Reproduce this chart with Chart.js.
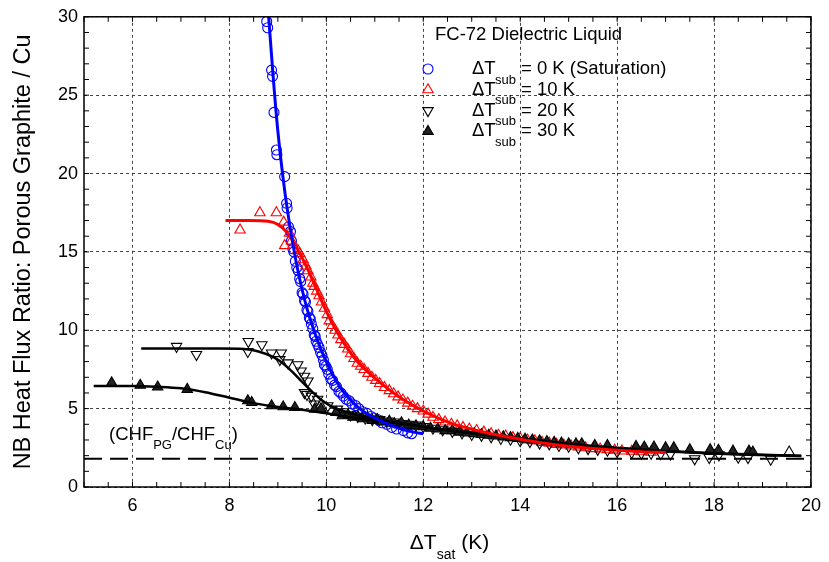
<!DOCTYPE html>
<html><head><meta charset="utf-8">
<script src="https://cdn.jsdelivr.net/npm/chart.js@4"></script>
<style>html,body{margin:0;padding:0;background:#fff}canvas{display:block}</style>
</head><body>
<canvas id="c" width="829" height="562"></canvas>
<script>
// ---- tick labels / constants ----
const xTicks = [6, 8, 10, 12, 14, 16, 18, 20];
const yTicks = [0, 5, 10, 15, 20, 25, 30];
const chfRatio = 1.8;

// ---- measured points [ΔTsat, ratio] ----
const sub0Pts = [[8.77,29.7],[8.79,29.3],[8.87,26.6],[8.89,26.2],[8.92,23.9],[8.97,21.5],[8.98,21.2],[9.14,19.8],[9.18,18.1],[9.19,17.8],[9.22,16.6],[9.26,16.3],[9.28,15.7],[9.31,15.2],[9.33,15.0],[9.36,14.4],[9.39,14.0],[9.42,13.8],[9.45,13.3],[9.47,13.1],[9.50,12.4],[9.52,12.3],[9.55,11.9],[9.57,11.8],[9.60,11.3],[9.62,11.2],[9.65,10.8],[9.67,10.7],[9.69,10.4],[9.72,10.1],[9.75,9.7],[9.77,9.6],[9.79,9.3],[9.82,9.1],[9.85,8.9],[9.88,8.6],[9.91,8.4],[9.94,8.1],[9.96,7.8],[9.99,7.7],[10.02,7.5],[10.05,7.2],[10.09,6.9],[10.13,6.8],[10.17,6.5],[10.21,6.4],[10.26,6.1],[10.30,6.0],[10.35,5.8],[10.41,5.6],[10.47,5.5],[10.53,5.3],[10.60,5.2],[10.67,5.0],[10.75,4.8],[10.84,4.7],[10.92,4.5],[10.98,4.4],[11.06,4.3],[11.15,4.1],[11.25,4.0],[11.35,3.8],[11.45,3.7],[11.59,3.6],[11.68,3.45],[11.76,3.4]];
const sub10Pts = [[8.22,16.4],[8.63,17.5],[8.97,17.5],[9.12,16.9],[9.24,16.2],[9.14,15.4],[9.28,15.7],[9.41,15.1],[9.45,14.9],[9.52,14.5],[9.58,14.1],[9.62,13.8],[9.68,13.4],[9.72,13.0],[9.75,12.8],[9.80,12.5],[9.85,12.2],[9.90,11.8],[9.96,11.4],[10.02,11.0],[10.06,10.6],[10.12,10.3],[10.18,10.0],[10.24,9.7],[10.30,9.4],[10.37,9.1],[10.44,8.8],[10.50,8.5],[10.57,8.2],[10.64,7.9],[10.71,7.7],[10.78,7.5],[10.86,7.25],[10.94,7.0],[11.02,6.8],[11.10,6.6],[11.20,6.35],[11.30,6.15],[11.39,5.95],[11.48,5.75],[11.58,5.55],[11.68,5.35],[11.78,5.15],[11.88,5.0],[12.00,4.85],[12.10,4.65],[12.20,4.45],[12.32,4.3],[12.45,4.15],[12.58,4.0],[12.70,3.9],[12.82,3.8],[12.95,3.7],[13.10,3.6],[13.25,3.5],[13.40,3.4],[13.55,3.3],[13.70,3.25],[13.85,3.15],[14.00,3.1],[14.15,3.0],[14.30,2.95],[14.45,2.85],[14.60,2.8],[14.75,2.72],[14.90,2.68],[15.05,2.62],[15.20,2.55],[15.35,2.5],[15.50,2.45],[15.65,2.42],[15.80,2.38],[15.95,2.35],[16.10,2.3],[16.30,2.28],[16.50,2.25],[16.70,2.22]];
const sub20Pts = [[6.91,8.97],[7.32,8.45],[8.39,9.28],[8.38,8.65],[8.67,9.08],[8.87,8.55],[9.07,8.55],[9.04,8.13],[9.21,7.92],[9.41,7.8],[9.48,7.4],[9.55,7.07],[9.62,6.76],[9.55,6.02],[9.60,5.9],[9.69,5.8],[9.82,5.6],[9.75,5.3],[10.03,5.18],[10.23,4.97],[10.35,4.8],[10.50,4.6],[10.65,4.5],[10.80,4.4],[10.95,4.3],[11.10,4.3],[11.25,4.2],[11.40,4.15],[11.55,4.05],[11.70,4.0],[11.85,3.95],[12.00,3.85],[12.20,3.75],[12.40,3.65],[12.60,3.55],[12.80,3.45],[13.00,3.35],[13.20,3.3],[13.40,3.2],[13.60,3.1],[13.80,3.05],[14.00,2.95],[14.20,2.9],[14.40,2.8],[14.60,2.75],[14.80,2.65],[15.00,2.6],[15.20,2.5],[15.40,2.45],[15.60,2.4],[15.80,2.35],[16.00,2.25],[16.30,2.2],[16.50,2.15],[16.70,2.15],[16.90,2.12],[17.10,2.1],[17.60,1.8],[17.90,1.88],[18.10,2.05],[18.50,1.9],[18.70,1.88],[19.17,1.77]];
const sub20UpPts = [[19.55,2.23]];
const sub30Pts = [[5.57,6.65],[6.16,6.49],[6.52,6.38],[7.13,6.23],[8.38,5.5],[8.46,5.39],[8.87,5.18],[9.11,5.12],[9.35,5.07],[9.76,4.97],[9.89,4.99],[10.20,4.76],[10.33,4.55],[10.45,4.6],[10.55,4.45],[10.65,4.5],[10.75,4.35],[10.85,4.4],[10.95,4.25],[11.05,4.3],[11.15,4.15],[11.30,4.2],[11.40,4.05],[11.55,4.1],[11.70,3.95],[11.85,3.9],[12.00,3.85],[12.15,3.75],[12.30,3.7],[12.45,3.6],[12.60,3.6],[12.75,3.5],[12.90,3.45],[13.05,3.4],[13.20,3.35],[13.35,3.3],[13.50,3.25],[13.65,3.2],[13.80,3.15],[13.95,3.1],[14.10,3.05],[14.25,3.0],[14.40,2.95],[14.55,2.9],[14.70,2.85],[14.85,2.8],[15.00,2.75],[15.15,2.75],[15.27,2.76],[15.54,2.65],[15.80,2.65],[16.39,2.59],[16.56,2.55],[16.76,2.55],[17.00,2.51],[17.17,2.51],[17.50,2.38],[17.92,2.38],[18.09,2.34],[18.39,2.29],[18.72,2.29],[18.80,2.23]];

// ---- fitted curves ----
const fit0 = [[8.81,30],[8.9,26.3],[9.0,22.7],[9.1,19.9],[9.2,17.6],[9.3,15.7],[9.4,14.0],[9.5,12.6],[9.6,11.4],[9.7,10.4],[9.8,9.5],[9.9,8.7],[10.0,8.0],[10.1,7.35],[10.2,6.8],[10.3,6.3],[10.4,5.9],[10.5,5.55],[10.65,5.1],[10.8,4.75],[11.0,4.4],[11.2,4.1],[11.4,3.85],[11.6,3.65],[11.8,3.5],[12.0,3.4]];
const fit10 = [[7.92,17.0],[8.4,17.0],[8.8,16.95],[9.0,16.75],[9.2,16.2],[9.4,15.2],[9.6,14.0],[9.8,12.6],[10.0,11.2],[10.2,10.0],[10.4,9.0],[10.6,8.15],[10.8,7.5],[11.0,6.95],[11.3,6.2],[11.6,5.55],[12.0,4.85],[12.5,4.15],[13.0,3.68],[13.5,3.33],[14.0,3.05],[14.5,2.8],[15.0,2.6],[15.5,2.45],[16.0,2.35],[16.5,2.25],[17.0,2.2]];
const fit20 = [[6.18,8.83],[7.0,8.83],[7.8,8.83],[8.3,8.8],[8.6,8.65],[8.9,8.3],[9.1,7.9],[9.3,7.35],[9.5,6.7],[9.7,6.1],[9.9,5.55],[10.1,5.15],[10.4,4.8],[10.8,4.45],[11.5,4.05],[12.5,3.6],[13.5,3.25],[14.5,2.9],[15.5,2.6],[16.5,2.35],[17.5,2.2],[18.5,2.08],[19.8,1.98]];
const fit30 = [[5.2,6.45],[6.0,6.45],[6.5,6.4],[7.0,6.3],[7.5,6.05],[8.0,5.7],[8.5,5.35],[9.0,5.1],[9.5,4.93],[10.0,4.7],[10.5,4.45],[11.0,4.25],[11.5,4.1],[12.0,3.85],[13.0,3.45],[14.0,3.1],[15.0,2.75],[16.0,2.5],[17.0,2.3],[18.0,2.15],[19.0,2.05],[19.8,2.0]];

const FONT = '"Liberation Sans", Arial, sans-serif';
const toXY = a => a.map(p => ({x: p[0], y: p[1]}));
const NONE = 'rgba(0,0,0,0)';

function pts(data, color, style, radius, rot, fill, order) {
  return {data: toXY(data), showLine: false, pointStyle: style, pointRadius: radius,
    pointRotation: rot, pointBorderColor: color, pointBackgroundColor: fill,
    pointBorderWidth: 1.1, order: order};
}
function line(data, color, width, order) {
  return {data: toXY(data), showLine: true, pointRadius: 0, borderColor: color,
    borderWidth: width, cubicInterpolationMode: 'monotone', fill: false, order: order};
}

const extras = {
  id: 'extras',
  afterDraw(chart) {
    const ctx = chart.ctx, a = chart.chartArea, xs = chart.scales.x, ys = chart.scales.y;
    ctx.save();
    // CHF ratio dashed line
    ctx.strokeStyle = '#000'; ctx.lineWidth = 2; ctx.setLineDash([18, 8]);
    const yc = ys.getPixelForValue(chfRatio);
    ctx.beginPath(); ctx.moveTo(a.left, yc); ctx.lineTo(a.right, yc); ctx.stroke();
    ctx.setLineDash([]);
    // frame
    ctx.lineWidth = 1.5; ctx.strokeStyle = '#000';
    ctx.strokeRect(a.left, a.top, a.right - a.left, a.bottom - a.top);
    // minor ticks inward
    ctx.lineWidth = 1;
    ctx.beginPath();
    for (let v = 5; v <= 20.001; v += 0.5) {
      const px = xs.getPixelForValue(v);
      ctx.moveTo(px, a.bottom); ctx.lineTo(px, a.bottom - 5);
      ctx.moveTo(px, a.top); ctx.lineTo(px, a.top + 5);
    }
    for (let v = 0; v <= 30.001; v += 1) {
      const py = ys.getPixelForValue(v);
      ctx.moveTo(a.left, py); ctx.lineTo(a.left + 5, py);
      ctx.moveTo(a.right, py); ctx.lineTo(a.right - 5, py);
    }
    ctx.stroke();

    ctx.fillStyle = '#000'; ctx.textBaseline = 'middle'; ctx.textAlign = 'left';
    const big = '18.5px ' + FONT, small = '13px ' + FONT;
    // CHF label
    let x = 109; const yl = 435;
    const seg = (t, f, dy) => { ctx.font = f; ctx.fillText(t, x, yl + dy); x += ctx.measureText(t).width; };
    seg('(CHF', big, 0); seg('PG', small, 10); seg('/CHF', big, 0); seg('Cu', small, 10); seg(')', big, 0);

    // legend
    ctx.font = big; ctx.fillText('FC-72 Dielectric Liquid', 435, 35);
    const rows = [
      {t: '= 0 K (Saturation)', c: '#0000ff', s: 'circle', r: 5, rot: 0, f: NONE},
      {t: '= 10 K', c: '#ff0000', s: 'triangle', r: 6, rot: 0, f: NONE},
      {t: '= 20 K', c: '#000', s: 'triangle', r: 6, rot: 180, f: NONE},
      {t: '= 30 K', c: '#000', s: 'triangle', r: 6, rot: 0, f: '#222'}
    ];
    rows.forEach((r, i) => {
      const yy = 69 + i * 20.8;
      ctx.strokeStyle = r.c; ctx.fillStyle = r.f; ctx.lineWidth = 1.1;
      Chart.helpers.drawPoint(ctx, {pointStyle: r.s, radius: r.r, rotation: r.rot, borderWidth: 1.1}, 428, yy);
      ctx.fillStyle = '#000';
      ctx.font = big; ctx.fillText('\u0394T', 472, yy);
      ctx.font = small; ctx.fillText('sub', 495, yy + 11);
      ctx.font = big; ctx.fillText(r.t, 521, yy);
    });

    // x-axis title
    const xb = '21px ' + FONT, xsml = '14px ' + FONT;
    ctx.font = xb;
    const w1 = ctx.measureText('\u0394T').width, w3 = ctx.measureText(' (K)').width;
    ctx.font = xsml; const w2 = ctx.measureText('sat').width;
    let tx = (a.left + a.right) / 2 - (w1 + w2 + w3) / 2 + 2;
    ctx.font = xb; ctx.fillText('\u0394T', tx, 543); tx += w1;
    ctx.font = xsml; ctx.fillText('sat', tx, 555); tx += w2;
    ctx.font = xb; ctx.fillText(' (K)', tx, 543);
    ctx.restore();
  }
};

new Chart(document.getElementById('c'), {
  type: 'scatter',
  data: {datasets: [
    line(fit0, '#0000ff', 3, 1),
    line(fit10, '#ff0000', 3, 2),
    line(fit20, '#000', 2.5, 3),
    line(fit30, '#000', 2.5, 4),
    pts(sub30Pts, '#000', 'triangle', 6, 0, '#222', 5),
    pts(sub20Pts, '#000', 'triangle', 6, 180, NONE, 6),
    pts(sub20UpPts, '#000', 'triangle', 6, 0, NONE, 6),
    pts(sub10Pts, '#ff0000', 'triangle', 6, 0, NONE, 7),
    pts(sub0Pts, '#0000ff', 'circle', 5, 0, NONE, 8)
  ]},
  options: {
    responsive: false, animation: false, devicePixelRatio: 1,
    layout: {padding: {left: 0, right: 11, top: 12, bottom: 0}},
    plugins: {legend: {display: false}, tooltip: {enabled: false}},
    scales: {
      x: {type: 'linear', min: 5, max: 20,
        afterBuildTicks: s => { s.ticks = xTicks.map(v => ({value: v})); },
        afterFit: s => { s.height = 75; },
        grid: {color: '#444', lineWidth: 1, drawTicks: false},
        border: {display: false, dash: [3, 3]},
        ticks: {font: {family: FONT, size: 18}, color: '#000', padding: 8}
      },
      y: {type: 'linear', min: 0, max: 30,
        afterBuildTicks: s => { s.ticks = yTicks.map(v => ({value: v})); },
        afterFit: s => { s.width = 84; },
        grid: {color: '#444', lineWidth: 1, drawTicks: false},
        border: {display: false, dash: [3, 3]},
        ticks: {font: {family: FONT, size: 18}, color: '#000', padding: 6},
        title: {display: true, text: 'NB Heat Flux Ratio: Porous Graphite / Cu',
          font: {family: FONT, size: 23.5}, color: '#000', padding: {top: 9, bottom: 0}}
      }
    }
  },
  plugins: [extras]
});
</script>
</body></html>
